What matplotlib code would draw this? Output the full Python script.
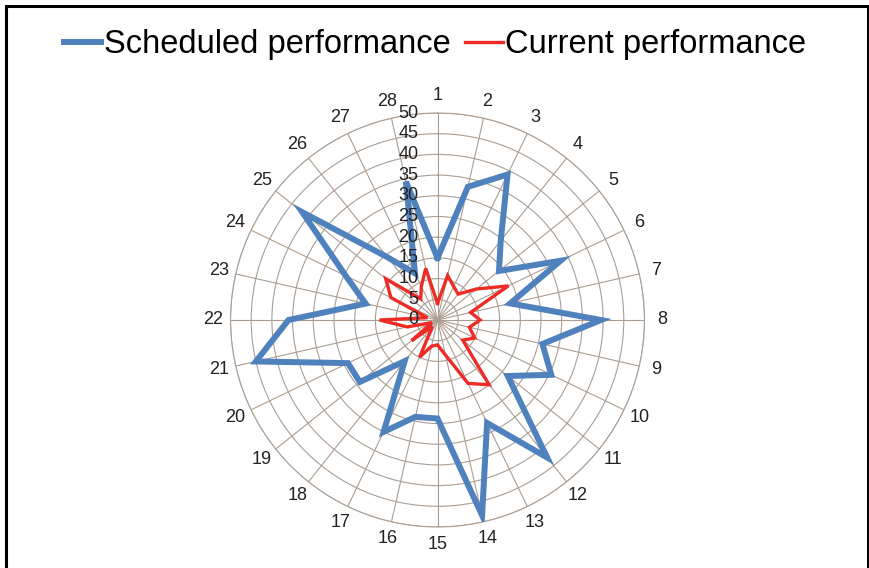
import numpy as np
import matplotlib
matplotlib.use("Agg")
import matplotlib.pyplot as plt
from matplotlib.patches import Rectangle

# 28 checkpoints around the radar
categories = [str(i) for i in range(1, 29)]

scheduled = [15, 33, 39, 24.5, 19, 33, 18, 39.5, 26, 30.5, 21.7, 42.5, 27.6, 48.4,
             23.8, 24, 30, 12.7, 24, 24, 45, 36, 17.8, 24.6, 41.8, 19.4, 12.5, 34.3]
current = [4, 11, 9, 8, 12, 19, 8.2, 10.3, 7.9, 10, 7.8, 20, 17, 8.7,
           6, 6.5, 10, 2, 8, 1.5, 7.5, 14, 2.5, 12.5, 16, 6.5, 9, 12.8]

r_ticks = list(range(0, 55, 5))

plt.rcParams['font.family'] = ['Liberation Sans', 'DejaVu Sans']

W, H = 870, 568
fig = plt.figure(figsize=(W / 100, H / 100), dpi=100)
fig.patch.set_facecolor('white')

cx, cy, R = 437.5, 568 - 320, 207
ax = fig.add_axes([(cx - R) / W, (cy - R) / H, 2 * R / W, 2 * R / H], projection='polar')
ax.set_theta_zero_location('N')
ax.set_theta_direction(-1)

n = len(categories)
angles = np.arange(n) * 2 * np.pi / n
a_closed = np.append(angles, angles[0])

grid_col = '#ab9d92'
ax.set_ylim(0, 50)
ax.set_yticks(r_ticks)
ax.set_yticklabels([])
ax.set_xticks(angles)
ax.set_xticklabels(categories, fontsize=13, color='#222222')
ax.tick_params(axis='x', pad=2)
ax.grid(True, color=grid_col, linewidth=0.8)
ax.spines['polar'].set_color(grid_col)
ax.spines['polar'].set_linewidth(0.8)

ax.plot(a_closed, np.append(scheduled, scheduled[0]), color='#4f81bd', lw=4.3,
        solid_joinstyle='miter', label='Scheduled performance', zorder=3)
ax.plot(a_closed, np.append(current, current[0]), color='#ee2b25', lw=2.4,
        solid_joinstyle='miter', label='Current performance', zorder=4)

# radial value labels just left of the vertical spoke
for v in r_ticks:
    ax.annotate(str(v), xy=(0, v), xytext=(-19, 0), textcoords='offset pixels',
                ha='right', va='center', fontsize=13, color='#222222', zorder=5)

fig.legend(loc='center', bbox_to_anchor=(0.5, 1 - 45 / H), ncol=2, frameon=False,
           fontsize=23.5, handlelength=1.15, handletextpad=0.08, columnspacing=0.45)

# outer black frame (open at the bottom)
fig.patches.append(Rectangle((6 / W, -0.1), 862 / W, 1.1 - 6.5 / H, transform=fig.transFigure,
                             fill=False, edgecolor='black', linewidth=2.2))

fig.savefig('out.png', dpi=100, facecolor='white')
